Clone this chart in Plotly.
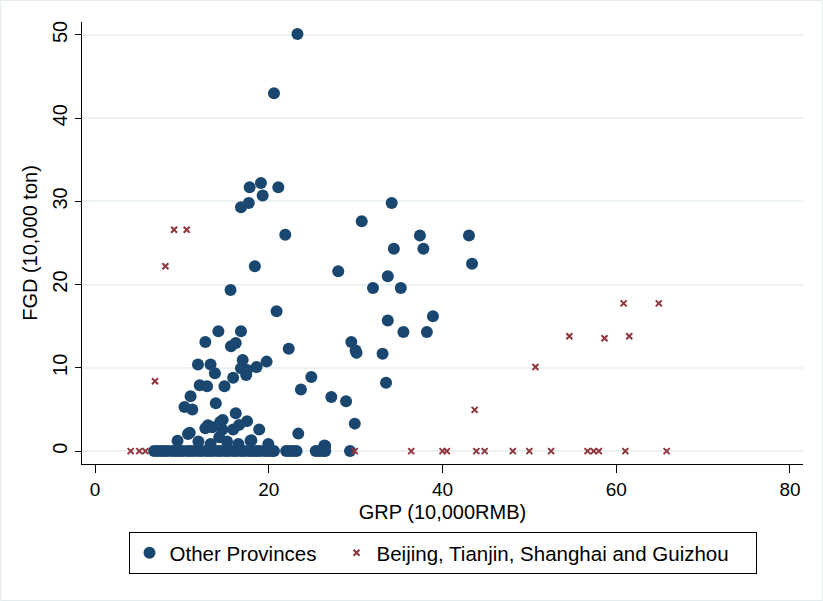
import plotly.graph_objects as go

# Other provinces: GRP (10,000 RMB) vs FGD (10,000 ton)
other_grp = [
    23.3, 20.6, 17.8, 19.1, 21.1, 19.3, 17.7, 16.8,
    21.9, 18.4, 28.0, 15.6, 20.9, 14.2, 16.8, 12.7, 15.65, 16.2, 22.3, 17.0,
    11.85, 13.3, 19.75, 16.8, 17.5, 17.4, 18.6, 13.8, 15.9, 24.9, 12.05, 12.9,
    14.9, 23.7,
    34.15, 30.7, 37.4, 43.05, 34.4, 37.8, 43.4, 33.7, 32.0, 35.2, 38.9, 33.7,
    35.5, 38.2, 29.5, 30.0, 30.1, 33.1, 33.5, 27.2, 28.9, 29.9, 23.4, 26.4,
    11.0, 13.9, 10.3, 11.2, 16.2, 14.7, 17.5, 12.7, 13.5, 14.65, 15.9, 16.6,
    18.9, 10.7, 10.9, 14.3, 9.5, 11.9, 13.3, 15.2, 16.5, 17.9, 19.95, 26.5,
    14.4, 13.0, 18.0,
    6.8, 7.2, 7.6, 8.0, 8.4, 8.9, 9.3, 9.7, 10.1, 10.6, 11.0, 11.4, 11.9,
    12.3, 12.8, 13.2, 13.6, 14.1, 14.5, 15.0, 15.4, 15.9, 16.3, 16.8, 17.2,
    17.7, 18.1, 18.6, 19.0, 19.5, 19.9, 20.3, 20.6, 22.0, 22.4, 22.8, 23.2,
    25.4, 25.8, 26.2, 26.5, 29.35,
]
other_fgd = [
    50.1, 43.0, 31.7, 32.2, 31.7, 30.7, 29.8, 29.3,
    26.0, 22.2, 21.6, 19.35, 16.8, 14.4, 14.4, 13.1, 12.6, 13.0, 12.3, 10.95,
    10.4, 10.4, 10.75, 9.95, 9.75, 9.15, 10.1, 9.35, 8.8, 8.9, 7.9, 7.8,
    7.8, 7.4,
    29.8, 27.6, 25.9, 25.9, 24.3, 24.3, 22.5, 21.0, 19.6, 19.6, 16.2, 15.7,
    14.3, 14.3, 13.1, 12.1, 11.8, 11.7, 8.2, 6.5, 6.0, 3.3, 2.1, 0.66,
    6.6, 5.75, 5.3, 5.0, 4.55, 3.75, 3.6, 2.75, 2.85, 2.6, 2.6, 3.15,
    2.6, 2.05, 2.2, 1.65, 1.25, 1.15, 0.85, 1.15, 0.85, 1.25, 0.85, 0.6,
    3.5, 3.1, 1.3,
    0, 0, 0, 0, 0, 0, 0, 0, 0, 0, 0, 0, 0,
    0, 0, 0, 0, 0, 0, 0, 0, 0, 0, 0, 0,
    0, 0, 0, 0, 0, 0, 0, 0, 0, 0, 0, 0,
    0, 0, 0, 0, 0,
]

# Beijing, Tianjin, Shanghai and Guizhou
bttsg_grp = [
    4.1, 5.1, 5.8, 29.9, 36.4, 40.0, 40.5, 43.9, 44.85, 48.1, 50.0, 52.5,
    56.7, 57.4, 58.0, 61.05, 65.8,
    6.9, 9.1, 10.55, 8.1, 43.7, 50.7, 54.6, 58.65, 61.5, 60.85, 64.9,
]
bttsg_fgd = [
    0, 0, 0, 0, 0, 0, 0, 0, 0, 0, 0, 0,
    0, 0, 0, 0, 0,
    8.4, 26.6, 26.6, 22.2, 4.95, 10.1, 13.8, 13.55, 13.8, 17.75, 17.75,
]

x_ticks = [0, 20, 40, 60, 80]
y_ticks = [0, 10, 20, 30, 40, 50]

NAVY = "#1A476F"
MAROON = "#90353B"
GRID = "#EAF2F3"
FONT = "Liberation Sans, Arial, Helvetica, sans-serif"

fig = go.Figure()
fig.add_trace(go.Scatter(
    x=other_grp, y=other_fgd, mode="markers", name="Other Provinces",
    legendwidth=162,
    marker=dict(symbol="circle", size=12, color=NAVY, line=dict(width=0)),
))
fig.add_trace(go.Scatter(
    x=bttsg_grp, y=bttsg_fgd, mode="markers",
    name="Beijing, Tianjin, Shanghai and Guizhou",
    legendwidth=374,
    marker=dict(symbol="x-thin", size=6, color=MAROON,
                line=dict(width=2, color=MAROON)),
))

W, H = 823, 601
ML, MR, MT, MB = 82, 20, 22, 137
PW, PH = W - ML - MR, H - MT - MB

# thin outline around the whole graph region
fig.add_shape(
    type="rect", xref="paper", yref="paper", layer="below",
    x0=-(ML - 0.5) / PW, x1=1 + (MR - 0.5) / PW,
    y0=-(MB - 0.5) / PH, y1=1 + (MT - 0.5) / PH,
    line=dict(color="#E3ECEF", width=1), fillcolor="rgba(0,0,0,0)",
)

fig.update_layout(
    width=W, height=H,
    margin=dict(l=ML, r=MR, t=MT, b=MB),
    paper_bgcolor="white", plot_bgcolor="white",
    font=dict(family=FONT, color="black"),
    showlegend=True,
    legend=dict(
        orientation="h", x=0.5, xanchor="center", y=-68 / PH, yanchor="top",
        bordercolor="black", borderwidth=1, font=dict(size=20.5, color="black"),
        bgcolor="white",
    ),
    xaxis=dict(
        range=[-1.5, 81.5], tickvals=x_ticks, ticks="outside", ticklen=8,
        tickcolor="black", showline=True, linecolor="black", linewidth=1,
        showgrid=False, zeroline=False, tickfont=dict(size=19),
        title=dict(text="GRP (10,000RMB)", font=dict(size=20), standoff=6),
    ),
    yaxis=dict(
        range=[-1.55, 51.55], tickvals=y_ticks, ticks="outside", ticklen=6,
        tickcolor="black", showline=True, linecolor="black", linewidth=1,
        showgrid=True, gridcolor=GRID, gridwidth=2, zeroline=False,
        tickangle=-90, tickfont=dict(size=20),
        title=dict(text="FGD (10,000 ton)", font=dict(size=20), standoff=6),
    ),
)

fig.write_html("out.html")
